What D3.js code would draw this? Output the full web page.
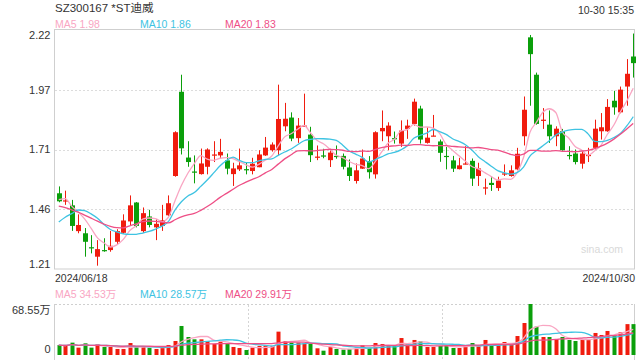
<!DOCTYPE html>
<html><head><meta charset="utf-8">
<script src="https://cdn.jsdelivr.net/npm/d3@7"></script>
<style>
body{margin:0;background:#fff}
svg{display:block;font-family:"Liberation Sans",Arial,"Noto Sans CJK SC",sans-serif}
</style>
</head><body><svg id="c" width="640" height="360"></svg>
<script>
const title = "SZ300167 *ST迪威";
const timeLabel = "10-30 15:35";
const dateLabels = ["2024/06/18", "2024/10/30"];
const open  = [1.530,1.497,1.479,1.370,1.361,1.302,1.262,1.290,1.290,1.325,1.363,1.411,1.491,1.370,1.432,1.386,1.392,1.437,1.603,1.959,1.681,1.622,1.611,1.642,1.690,1.690,1.669,1.611,1.631,1.632,1.624,1.640,1.690,1.712,1.712,1.813,1.850,1.763,1.813,1.778,1.682,1.690,1.670,1.688,1.688,1.639,1.582,1.634,1.666,1.610,1.792,1.771,1.763,1.740,1.802,1.823,1.888,1.743,1.772,1.749,1.688,1.669,1.632,1.654,1.667,1.603,1.553,1.574,1.552,1.612,1.603,1.631,1.771,2.189,2.031,1.838,1.820,1.771,1.792,1.692,1.698,1.655,1.688,1.722,1.792,1.792,1.921,1.872,1.981,2.108];
const high  = [1.559,1.541,1.502,1.441,1.383,1.353,1.332,1.340,1.371,1.378,1.441,1.521,1.493,1.470,1.460,1.420,1.481,1.521,1.792,2.031,1.750,1.690,1.719,1.720,1.750,1.760,1.698,1.659,1.719,1.662,1.680,1.712,1.768,1.745,1.989,1.912,1.872,1.848,1.951,1.811,1.732,1.718,1.718,1.732,1.698,1.673,1.656,1.715,1.687,1.792,1.880,1.830,1.791,1.838,1.841,1.930,1.900,1.809,1.861,1.757,1.726,1.688,1.680,1.729,1.677,1.659,1.592,1.603,1.600,1.652,1.648,1.722,1.939,2.199,2.040,1.890,1.880,1.813,1.802,1.729,1.715,1.708,1.722,1.841,1.869,1.928,1.963,1.981,2.097,2.205];
const low   = [1.492,1.481,1.371,1.361,1.262,1.276,1.224,1.283,1.283,1.314,1.359,1.396,1.386,1.363,1.386,1.332,1.371,1.434,1.600,1.694,1.642,1.572,1.609,1.610,1.662,1.676,1.610,1.561,1.624,1.610,1.610,1.640,1.688,1.706,1.690,1.792,1.750,1.743,1.812,1.662,1.670,1.678,1.641,1.676,1.631,1.582,1.571,1.633,1.592,1.592,1.750,1.712,1.740,1.726,1.760,1.816,1.740,1.740,1.771,1.663,1.631,1.620,1.631,1.652,1.561,1.561,1.524,1.540,1.540,1.603,1.600,1.629,1.732,1.900,1.820,1.802,1.743,1.729,1.710,1.673,1.652,1.634,1.662,1.715,1.757,1.790,1.862,1.868,1.900,2.019];
const close = [1.496,1.500,1.392,1.396,1.325,1.300,1.294,1.288,1.308,1.370,1.415,1.479,1.392,1.446,1.396,1.401,1.416,1.488,1.788,1.720,1.662,1.620,1.656,1.715,1.694,1.705,1.634,1.635,1.648,1.630,1.655,1.694,1.723,1.736,1.844,1.845,1.761,1.816,1.816,1.691,1.685,1.688,1.702,1.686,1.642,1.603,1.627,1.677,1.619,1.788,1.806,1.816,1.761,1.795,1.816,1.917,1.757,1.765,1.774,1.701,1.686,1.634,1.648,1.656,1.592,1.635,1.555,1.565,1.584,1.614,1.627,1.697,1.883,2.118,1.823,1.841,1.771,1.803,1.712,1.690,1.662,1.698,1.692,1.803,1.809,1.895,1.893,1.968,2.035,2.080];
// closes of the 19 sessions before the first visible one (estimated from the MA lines at the left edge)
const priorClose = [1.62,1.60,1.58,1.57,1.56,1.55,1.53,1.51,1.48,1.43,1.30,1.24,1.24,1.35,1.44,1.48,1.55,1.52,1.47];
// volume, in 万 shares
const volume = [13.4,12.1,16.6,9.9,15.7,9.9,14.3,10.8,10.8,8.1,8.1,16.1,10.8,10.8,9.4,8.1,9.9,13.4,18.8,39.0,24.2,21.1,21.1,18.8,14.8,17.9,15.7,10.8,9.4,6.7,9.9,12.1,12.5,12.1,31.4,18.8,16.6,16.6,15.7,14.8,9.0,
  5.8,10.8,8.1,7.2,8.1,8.1,13.0,9.4,16.1,14.8,12.1,12.5,22.8,14.3,20.2,18.4,10.8,10.8,12.1,13.0,9.4,9.4,12.1,16.1,12.1,20.2,13.4,13.0,17.5,13.9,25.5,43.0,68.55,38.1,24.2,24.2,21.5,24.2,20.2,18.8,20.2,20.2,29.6,26.9,32.3,26.5,30.5,41.5,41.5];
const priceDomain = [1.21, 2.22];
const priceTicks = [2.22, 1.9675, 1.715, 1.4625, 1.21];
const priceTickLabels = ["2.22", "1.97", "1.71", "1.46", "1.21"];
const volMax = 68.55;
const volTickLabels = ["68.55万", "0"];
const maPeriods = [5, 10, 20];
const maNames = ["MA5", "MA10", "MA20"];
const priceMaText = ["1.98", "1.86", "1.83"];
const volMaText = ["34.53万", "28.57万", "29.91万"];
const watermark = "sina.com";

const maColors = ["#f9a6c3", "#3ec3e2", "#ee4f86"];
const UP = "#f01c0e", DOWN = "#0b9f0b";

const n = close.length;
const svg = d3.select("#c");
const x = d3.scaleBand().domain(d3.range(n)).range([56.5, 635.5]).paddingInner(0.3);
const cx = i => x(i) + x.bandwidth() / 2;
const y = d3.scaleLinear().domain(priceDomain).range([269, 30]);
const vy = d3.scaleLinear().domain([0, volMax]).range([355, 304]);
const isUp = i => close[i] >= open[i];

// header
svg.append("text").attr("x", 55).attr("y", 12).attr("font-size", 11.5).attr("fill", "#333").text(title);
svg.append("text").attr("x", 634).attr("y", 14).attr("font-size", 10.5).attr("fill", "#333").attr("text-anchor", "end").text(timeLabel);
const legX = [55, 140, 225];
maNames.forEach((m, k) => {
  svg.append("text").attr("x", legX[k]).attr("y", 27.5).attr("font-size", 10.5).attr("fill", maColors[k]).text(m + " " + priceMaText[k]);
  svg.append("text").attr("x", legX[k]).attr("y", 297.5).attr("font-size", 10.5).attr("fill", maColors[k]).text(m + " " + volMaText[k]);
});

// price frame + grid
svg.append("rect").attr("x", 54.5).attr("y", 29.5).attr("width", 580).attr("height", 239.5)
  .attr("fill", "none").attr("stroke", "#cfcfcf");
priceTicks.slice(1, -1).forEach(t => {
  svg.append("line").attr("x1", 55).attr("x2", 634).attr("y1", Math.round(y(t)) + 0.5).attr("y2", Math.round(y(t)) + 0.5)
    .attr("stroke", "#dcdcdc").attr("stroke-dasharray", "2,2");
});
priceTicks.forEach((t, k) => {
  const anchorY = k === 0 ? y(t) + 9 : (k === priceTicks.length - 1 ? y(t) - 1.5 : y(t) + 3.8);
  svg.append("text").attr("x", 50.5).attr("y", anchorY).attr("font-size", 11).attr("fill", "#333")
    .attr("text-anchor", "end").text(priceTickLabels[k]);
});
svg.append("text").attr("x", 623).attr("y", 252.5).attr("font-size", 10.5).attr("fill", "#d9d9d9").attr("text-anchor", "end").text(watermark);

// candles
const cg = svg.append("g");
d3.range(n).forEach(i => {
  const col = isUp(i) ? UP : DOWN;
  const xc = Math.round(cx(i)) + 0.5;
  cg.append("line").attr("x1", xc).attr("x2", xc).attr("y1", y(high[i])).attr("y2", y(low[i])).attr("stroke", col).attr("stroke-width", 1);
  const top = y(Math.max(open[i], close[i])), bot = y(Math.min(open[i], close[i]));
  cg.append("rect").attr("x", xc - 2.5).attr("width", 5).attr("y", top).attr("height", Math.max(1.2, bot - top)).attr("fill", col);
});

// price MAs
const allClose = priorClose.concat(close);
const off = priorClose.length;
const line = d3.line().curve(d3.curveMonotoneX);
maPeriods.forEach((p, k) => {
  const pts = d3.range(n).map(i => {
    const seg = allClose.slice(Math.max(0, i + off - p + 1), i + off + 1);
    return [cx(i), y(d3.mean(seg))];
  });
  svg.append("path").attr("d", line(pts)).attr("fill", "none").attr("stroke", maColors[k]).attr("stroke-width", 1.3);
});

// x date labels
svg.append("text").attr("x", 55).attr("y", 281.5).attr("font-size", 10.5).attr("fill", "#333").text(dateLabels[0]);
svg.append("text").attr("x", 635).attr("y", 281.5).attr("font-size", 10.5).attr("fill", "#333").attr("text-anchor", "end").text(dateLabels[1]);

// volume panel
svg.append("line").attr("x1", 55).attr("x2", 634).attr("y1", 304.5).attr("y2", 304.5).attr("stroke", "#cfcfcf").attr("stroke-dasharray", "2,2");
svg.append("line").attr("x1", 54.5).attr("x2", 54.5).attr("y1", 304).attr("y2", 360).attr("stroke", "#cfcfcf");
svg.append("line").attr("x1", 634.5).attr("x2", 634.5).attr("y1", 304).attr("y2", 360).attr("stroke", "#cfcfcf");
[30, 60].forEach(k => {
  const xv = Math.round(x(k) - x.step() * 0.15 - 1) + 0.5;
  svg.append("line").attr("x1", xv).attr("x2", xv).attr("y1", 305).attr("y2", 360).attr("stroke", "#d5d5d5").attr("stroke-dasharray", "2,2");
});
svg.append("text").attr("x", 50.5).attr("y", 314).attr("font-size", 11).attr("fill", "#333").attr("text-anchor", "end").text(volTickLabels[0]);
svg.append("text").attr("x", 50.5).attr("y", 352.5).attr("font-size", 11).attr("fill", "#333").attr("text-anchor", "end").text(volTickLabels[1]);
d3.range(n).forEach(i => {
  const xc = Math.round(cx(i));
  svg.append("rect").attr("x", xc - 1.5).attr("width", 4).attr("y", vy(volume[i])).attr("height", vy(0) - vy(volume[i]))
    .attr("fill", isUp(i) ? UP : DOWN);
});
maPeriods.forEach((p, k) => {
  const pts = d3.range(n).map(i => [cx(i), vy(d3.mean(volume.slice(Math.max(0, i - p + 1), i + 1)))]);
  svg.append("path").attr("d", line(pts)).attr("fill", "none").attr("stroke", maColors[k]).attr("stroke-width", 1.3);
});
</script>
</body></html>
